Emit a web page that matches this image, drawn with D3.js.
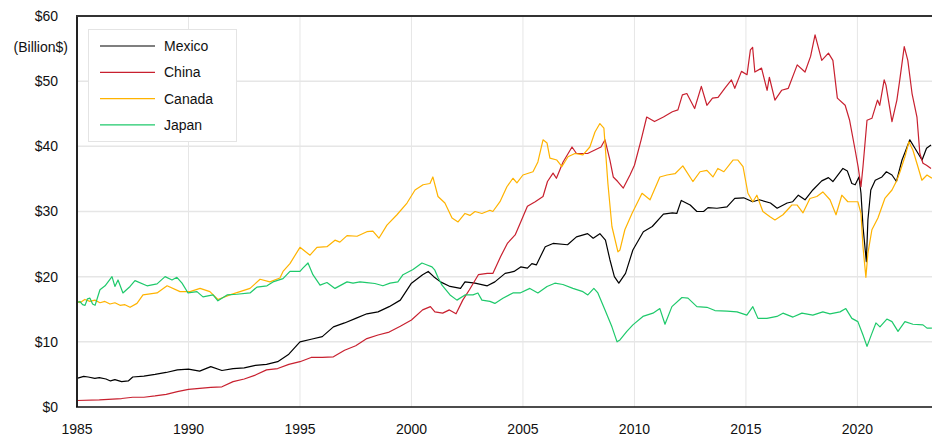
<!DOCTYPE html>
<html>
<head>
<meta charset="utf-8">
<script src="https://cdn.jsdelivr.net/npm/d3@7"></script>
<style>
  body { margin: 0; background: #fff; }
  svg { display: block; font-family: "Liberation Sans", Arial, sans-serif; }
  .tick-label { font-size: 14px; fill: #111; }
  .legend-text { font-size: 14px; fill: #111; }
</style>
</head>
<body>
<div id="chart"></div>
<script>
// Chart area size
var svgWidth = 932;
var svgHeight = 438;

var margin = { top: 16, right: 1, bottom: 31, left: 77 };
var width = 931 - margin.left;
var height = svgHeight - margin.top - margin.bottom;

// Data: [decimal year, billion $]
var mexico = [[1985.0,4.4],[1985.3,4.7],[1985.5,4.6],[1985.8,4.4],[1986.0,4.5],[1986.3,4.3],[1986.5,4.0],[1986.7,4.2],[1987.0,3.9],[1987.3,4.0],[1987.5,4.6],[1988.0,4.75],[1988.5,5.0],[1989.0,5.3],[1989.5,5.7],[1990.0,5.8],[1990.5,5.5],[1991.0,6.2],[1991.5,5.6],[1992.0,5.9],[1992.5,6.0],[1993.0,6.4],[1993.5,6.55],[1994.0,6.95],[1994.5,8.1],[1995.0,10.0],[1995.5,10.4],[1996.0,10.8],[1996.5,12.3],[1997.0,12.9],[1997.5,13.6],[1998.0,14.3],[1998.5,14.6],[1999.0,15.4],[1999.5,16.4],[2000.0,19.0],[2000.5,20.3],[2000.75,20.8],[2001.0,20.0],[2001.3,19.2],[2001.73,18.5],[2002.2,18.2],[2002.4,19.2],[2002.85,19.0],[2003.4,18.6],[2003.74,19.2],[2004.2,20.5],[2004.6,20.8],[2004.9,21.5],[2005.2,21.3],[2005.4,22.0],[2005.6,21.8],[2006.0,24.6],[2006.35,25.1],[2007.0,24.9],[2007.4,26.1],[2007.9,26.6],[2008.15,25.9],[2008.45,26.6],[2008.7,25.6],[2008.9,22.6],[2009.1,20.0],[2009.3,19.0],[2009.6,20.5],[2009.93,24.1],[2010.4,26.9],[2010.8,27.7],[2011.3,29.6],[2011.7,29.8],[2011.9,29.7],[2012.1,31.7],[2012.5,31.0],[2012.8,30.0],[2013.1,30.0],[2013.3,30.6],[2013.7,30.5],[2014.15,30.7],[2014.5,32.0],[2014.9,32.1],[2015.3,31.5],[2015.6,31.8],[2016.1,31.3],[2016.4,30.5],[2016.85,31.3],[2017.1,31.5],[2017.35,32.5],[2017.65,31.8],[2018.0,33.3],[2018.4,34.7],[2018.7,35.2],[2018.9,34.6],[2019.35,36.6],[2019.55,36.2],[2019.75,34.3],[2019.9,34.1],[2020.07,35.3],[2020.16,32.8],[2020.25,27.7],[2020.4,22.3],[2020.47,28.7],[2020.6,33.3],[2020.8,34.8],[2021.1,35.3],[2021.3,36.1],[2021.55,35.6],[2021.75,34.6],[2022.0,37.9],[2022.15,39.2],[2022.35,41.0],[2022.58,39.7],[2022.9,37.9],[2023.1,39.7],[2023.3,40.2]];

var china = [[1985.0,1.0],[1986.0,1.1],[1987.0,1.3],[1987.5,1.5],[1988.0,1.5],[1988.5,1.7],[1989.0,1.95],[1989.5,2.35],[1990.0,2.7],[1990.5,2.85],[1991.0,3.0],[1991.5,3.1],[1992.0,3.9],[1992.5,4.3],[1993.0,4.9],[1993.5,5.7],[1994.0,5.9],[1994.5,6.55],[1995.0,6.95],[1995.5,7.6],[1996.0,7.6],[1996.5,7.7],[1997.0,8.7],[1997.5,9.4],[1998.0,10.5],[1998.5,11.05],[1999.0,11.5],[1999.5,12.4],[2000.0,13.35],[2000.5,14.9],[2000.85,15.4],[2001.05,14.6],[2001.4,14.4],[2001.7,14.9],[2002.0,14.3],[2002.3,16.4],[2002.6,18.0],[2003.0,20.3],[2003.4,20.5],[2003.65,20.5],[2004.0,23.1],[2004.3,25.1],[2004.65,26.4],[2004.9,28.4],[2005.2,30.8],[2005.55,31.5],[2005.9,32.3],[2006.1,34.6],[2006.35,35.9],[2006.5,35.1],[2006.8,37.6],[2007.2,39.9],[2007.4,38.9],[2007.9,38.9],[2008.2,39.4],[2008.5,39.9],[2008.68,41.0],[2008.9,37.9],[2009.05,35.3],[2009.25,34.6],[2009.5,33.6],[2009.8,35.6],[2010.0,37.1],[2010.3,41.0],[2010.55,44.5],[2010.9,43.8],[2011.3,44.5],[2011.7,45.3],[2011.95,45.6],[2012.15,47.9],[2012.35,48.1],[2012.7,45.8],[2013.0,49.2],[2013.25,46.3],[2013.5,47.4],[2013.75,47.5],[2014.05,48.9],[2014.35,50.2],[2014.5,48.9],[2014.8,51.5],[2015.05,51.0],[2015.2,54.8],[2015.3,55.2],[2015.4,51.4],[2015.7,52.0],[2015.95,48.6],[2016.05,50.6],[2016.3,47.1],[2016.6,48.6],[2016.9,48.9],[2017.3,52.5],[2017.65,51.4],[2017.9,53.8],[2018.1,57.1],[2018.4,53.2],[2018.7,54.3],[2018.9,53.2],[2019.1,47.4],[2019.45,46.3],[2019.65,44.0],[2019.9,39.4],[2020.03,36.9],[2020.16,33.8],[2020.25,36.9],[2020.43,44.0],[2020.65,44.3],[2020.9,47.1],[2021.0,46.3],[2021.2,50.2],[2021.28,49.4],[2021.55,43.8],[2021.77,47.1],[2021.9,50.2],[2022.1,55.3],[2022.26,53.2],[2022.45,48.1],[2022.67,44.5],[2022.8,38.9],[2022.94,37.4],[2023.1,37.1],[2023.3,36.6]];

var canada = [[1985.0,16.3],[1985.13,16.0],[1985.35,16.5],[1985.58,16.2],[1985.8,16.4],[1986.03,16.0],[1986.25,16.2],[1986.48,15.8],[1986.7,16.0],[1986.93,15.6],[1987.15,15.7],[1987.38,15.3],[1987.69,15.9],[1987.96,17.2],[1988.59,17.5],[1989.04,18.6],[1989.62,17.7],[1990.07,17.7],[1990.52,18.2],[1990.96,17.7],[1991.32,16.5],[1991.86,17.2],[1992.31,17.7],[1992.76,18.2],[1993.21,19.6],[1993.65,19.2],[1994.1,19.8],[1994.24,20.8],[1994.55,22.0],[1995.0,24.5],[1995.45,23.3],[1995.76,24.5],[1996.21,24.6],[1996.57,25.6],[1996.79,25.3],[1997.11,26.3],[1997.56,26.2],[1998.0,26.9],[1998.27,27.0],[1998.54,25.9],[1998.9,27.9],[1999.35,29.5],[1999.8,31.3],[2000.16,33.3],[2000.52,34.1],[2000.83,34.3],[2000.96,35.3],[2001.19,32.3],[2001.5,31.3],[2001.82,29.0],[2002.09,28.4],[2002.4,29.7],[2002.62,29.4],[2002.85,30.0],[2003.16,29.7],[2003.52,30.2],[2003.65,30.0],[2003.97,31.5],[2004.28,33.8],[2004.55,35.1],[2004.73,34.4],[2005.0,35.6],[2005.45,36.1],[2005.67,37.6],[2005.9,41.0],[2006.08,40.5],[2006.21,38.2],[2006.52,37.9],[2006.75,36.9],[2007.02,38.4],[2007.33,38.9],[2007.69,38.7],[2008.0,39.9],[2008.23,42.2],[2008.45,43.5],[2008.63,42.8],[2008.81,34.3],[2008.99,27.7],[2009.26,23.8],[2009.35,24.1],[2009.57,27.2],[2009.89,29.7],[2010.34,32.8],[2010.7,31.8],[2011.14,35.3],[2011.46,35.6],[2011.82,35.8],[2012.17,37.0],[2012.62,34.6],[2012.94,36.1],[2013.25,36.3],[2013.52,35.3],[2013.74,36.6],[2014.01,36.1],[2014.42,37.9],[2014.64,37.9],[2014.87,36.9],[2015.09,32.8],[2015.31,31.5],[2015.49,32.5],[2015.76,30.0],[2016.08,29.2],[2016.3,28.7],[2016.66,29.5],[2017.06,31.0],[2017.29,31.0],[2017.56,29.8],[2017.87,32.0],[2018.18,32.3],[2018.45,33.0],[2018.77,31.8],[2019.04,29.5],[2019.3,32.5],[2019.57,31.5],[2019.89,31.5],[2020.02,31.5],[2020.16,29.7],[2020.25,24.6],[2020.38,19.9],[2020.47,23.6],[2020.65,27.2],[2020.92,29.0],[2021.23,32.0],[2021.55,33.3],[2021.77,34.8],[2021.91,36.1],[2022.13,38.4],[2022.31,40.7],[2022.49,39.4],[2022.71,36.9],[2022.89,34.8],[2023.12,35.6],[2023.34,35.1]];

var japan = [[1985.0,16.0],[1985.13,16.2],[1985.25,15.7],[1985.36,15.6],[1985.47,16.6],[1985.58,16.7],[1985.7,15.8],[1985.81,15.6],[1985.92,16.8],[1986.03,18.0],[1986.26,18.6],[1986.57,20.0],[1986.7,18.5],[1986.84,19.5],[1987.06,17.5],[1987.38,18.5],[1987.6,19.4],[1988.14,18.6],[1988.59,18.9],[1988.95,20.0],[1989.26,19.5],[1989.48,19.9],[1989.71,19.0],[1989.98,17.5],[1990.38,17.7],[1990.65,16.9],[1991.1,17.2],[1991.32,16.3],[1991.73,17.2],[1992.17,17.3],[1992.76,17.5],[1993.07,18.4],[1993.52,18.6],[1993.79,19.2],[1994.24,19.7],[1994.55,20.8],[1995.0,20.8],[1995.13,21.3],[1995.36,22.1],[1995.58,20.3],[1995.9,18.7],[1996.21,19.1],[1996.57,18.2],[1997.11,19.2],[1997.38,19.0],[1997.69,19.2],[1998.0,19.1],[1998.36,18.95],[1998.72,18.6],[1999.04,19.0],[1999.39,19.2],[1999.62,20.3],[2000.07,21.1],[2000.47,22.1],[2000.7,21.8],[2000.92,21.5],[2001.05,21.0],[2001.2,19.8],[2001.37,18.7],[2001.73,17.2],[2002.04,16.4],[2002.4,17.2],[2002.76,17.2],[2002.98,17.5],[2003.16,16.4],[2003.52,16.2],[2003.74,15.9],[2004.1,16.7],[2004.55,17.5],[2004.87,17.5],[2005.31,18.2],[2005.67,17.5],[2006.08,18.5],[2006.43,19.0],[2006.79,18.8],[2007.24,18.2],[2007.69,17.7],[2007.91,17.2],[2008.18,18.2],[2008.36,17.5],[2008.68,14.9],[2008.99,12.3],[2009.22,10.0],[2009.35,10.3],[2009.66,11.6],[2009.93,12.6],[2010.38,13.9],[2010.83,14.4],[2011.14,15.1],[2011.37,12.7],[2011.68,15.4],[2012.13,16.8],[2012.4,16.7],[2012.8,15.4],[2013.25,15.3],[2013.61,14.8],[2014.15,14.7],[2014.6,14.6],[2015.04,14.1],[2015.31,15.4],[2015.54,13.6],[2015.94,13.6],[2016.39,13.9],[2016.66,14.4],[2017.11,13.8],[2017.51,14.4],[2018.0,14.1],[2018.45,14.6],[2018.77,14.3],[2019.22,14.6],[2019.48,15.1],[2019.75,13.6],[2020.02,13.1],[2020.25,11.05],[2020.43,9.3],[2020.65,11.3],[2020.83,12.9],[2021.01,12.3],[2021.32,13.5],[2021.55,13.1],[2021.82,11.6],[2022.13,13.1],[2022.49,12.7],[2022.94,12.6],[2023.12,12.1],[2023.34,12.1]];

var seriesNames = ["Mexico", "China", "Canada", "Japan"];
var seriesColors = ["#000000", "#c8202f", "#ffb300", "#1ec96b"];
var xTicks = [1985, 1990, 1995, 2000, 2005, 2010, 2015, 2020];
var yTicks = [0, 10, 20, 30, 40, 50, 60];

var allSeries = [mexico, china, canada, japan];

var svg = d3.select("#chart")
    .append("svg")
    .attr("width", svgWidth)
    .attr("height", svgHeight);

var chartGroup = svg.append("g")
    .attr("transform", `translate(${margin.left}, ${margin.top})`);

// Scales
var xScale = d3.scaleLinear()
    .domain([1985, 2023.3])
    .range([0, width]);
var yScale = d3.scaleLinear()
    .domain([0, 60])
    .range([height, 0]);

// Gridlines
chartGroup.append("g")
    .selectAll("line")
    .data(xTicks.slice(1))
    .enter()
    .append("line")
    .attr("x1", d => xScale(d))
    .attr("x2", d => xScale(d))
    .attr("y1", 0)
    .attr("y2", height)
    .attr("stroke", "#e6e6e6")
    .attr("stroke-width", 1);

chartGroup.append("g")
    .selectAll("line")
    .data(yTicks.slice(1, -1))
    .enter()
    .append("line")
    .attr("x1", 0)
    .attr("x2", width + 2)
    .attr("y1", d => yScale(d))
    .attr("y2", d => yScale(d))
    .attr("stroke", "#e6e6e6")
    .attr("stroke-width", 1.5);

// Lines
var line = d3.line()
    .x(d => xScale(d[0]))
    .y(d => yScale(d[1]));

chartGroup.append("g")
    .selectAll("path")
    .data(allSeries)
    .enter()
    .append("path")
    .attr("d", d => line(d))
    .attr("fill", "none")
    .attr("stroke", (d, i) => seriesColors[i])
    .attr("stroke-width", 1.2)
    .attr("stroke-linejoin", "round");

// Frame: left, top, bottom
chartGroup.append("line")
    .attr("x1", 0).attr("x2", 0)
    .attr("y1", 0).attr("y2", height)
    .attr("stroke", "#222").attr("stroke-width", 2);
chartGroup.append("line")
    .attr("x1", -1).attr("x2", width + 2)
    .attr("y1", 0).attr("y2", 0)
    .attr("stroke", "#333").attr("stroke-width", 2);
chartGroup.append("line")
    .attr("x1", -1).attr("x2", width + 2)
    .attr("y1", height).attr("y2", height)
    .attr("stroke", "#111").attr("stroke-width", 1.5);

// Y tick labels
chartGroup.append("g")
    .selectAll("text")
    .data(yTicks)
    .enter()
    .append("text")
    .attr("class", "tick-label")
    .attr("x", -19)
    .attr("y", d => yScale(d))
    .attr("dy", "0.35em")
    .attr("text-anchor", "end")
    .text(d => "$" + d);

chartGroup.append("text")
    .attr("class", "tick-label")
    .attr("x", -9)
    .attr("y", 31)
    .attr("dy", "0.35em")
    .attr("text-anchor", "end")
    .text("(Billion$)");

// X tick labels
chartGroup.append("g")
    .selectAll("text")
    .data(xTicks)
    .enter()
    .append("text")
    .attr("class", "tick-label")
    .attr("x", d => xScale(d))
    .attr("y", height + 27)
    .attr("text-anchor", "middle")
    .text(d => d);

// Legend
var legend = svg.append("g")
    .attr("transform", "translate(88, 29)");

legend.append("rect")
    .attr("x", 0.5)
    .attr("y", 0.5)
    .attr("width", 148)
    .attr("height", 112)
    .attr("fill", "#fff")
    .attr("stroke", "#e4e4e4")
    .attr("stroke-width", 1);

var legendItems = legend.selectAll(".legend-item")
    .data(seriesNames)
    .enter()
    .append("g")
    .attr("transform", (d, i) => `translate(0, ${17 + i * 26.3})`);

legendItems.append("line")
    .attr("x1", 12)
    .attr("x2", 67)
    .attr("y1", 0)
    .attr("y2", 0)
    .attr("stroke", (d, i) => seriesColors[i])
    .attr("stroke-width", 1.2);

legendItems.append("text")
    .attr("class", "legend-text")
    .attr("x", 76)
    .attr("y", 0)
    .attr("dy", "0.35em")
    .text(d => d);
</script>
</body>
</html>
